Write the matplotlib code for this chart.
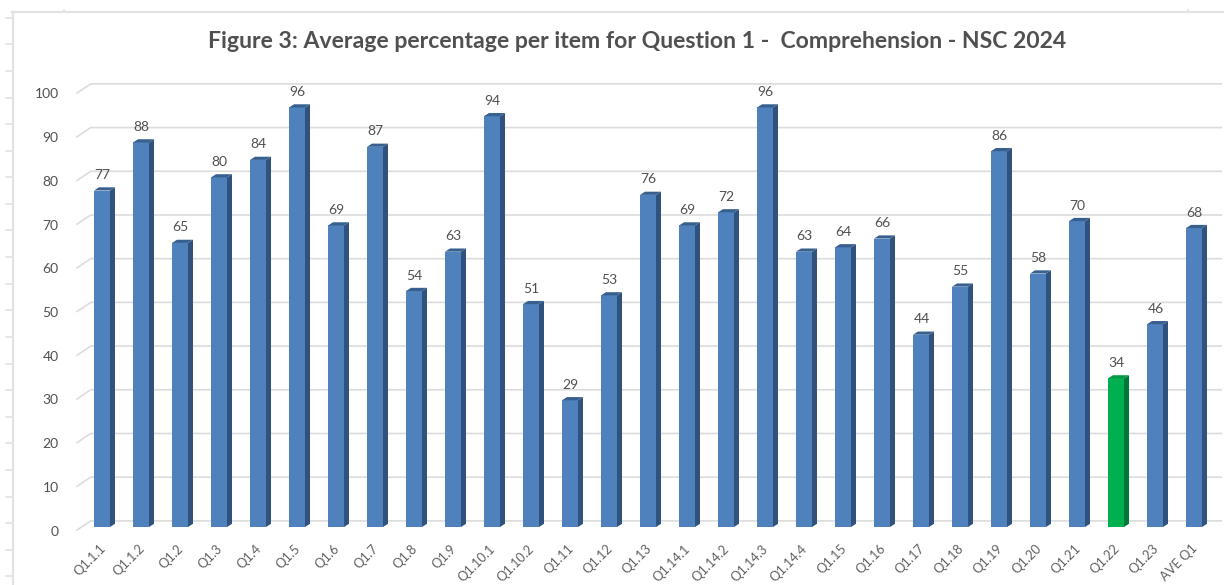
import matplotlib
matplotlib.use("Agg")
import matplotlib.pyplot as plt
from matplotlib.patches import Polygon
from matplotlib.lines import Line2D
from matplotlib.transforms import ScaledTranslation

categories = ["Q1.1.1","Q1.1.2","Q1.2","Q1.3","Q1.4","Q1.5","Q1.6","Q1.7","Q1.8","Q1.9",
              "Q1.10.1","Q1.10.2","Q1.11","Q1.12","Q1.13","Q1.14.1","Q1.14.2","Q1.14.3","Q1.14.4",
              "Q1.15","Q1.16","Q1.17","Q1.18","Q1.19","Q1.20","Q1.21","Q1.22","Q1.23","AVE Q1"]
values = [77,88,65,80,84,96,69,87,54,63,94,51,29,53,76,69,72,96,63,64,66,44,55,86,58,70,34,46.4,68.4]
highlight = "Q1.22"
title = "Figure 3: Average percentage per item for Question 1 -  Comprehension - NSC 2024"
y_ticks = list(range(0, 101, 10))

W, H = 1224, 585
plt.rcParams['font.family'] = ['Lato', 'DejaVu Sans']
fig = plt.figure(figsize=(W/100, H/100), dpi=100, facecolor='white')

# sheet frame with ruler-like ticks
frame = '#e2e2e2'
def fig_line(xp, yp, lw=1.6):
    fig.add_artist(Line2D([x/W for x in xp], [1-y/H for y in yp], color=frame, lw=lw))
fig_line([12.5, 12.5], [12, H])
fig_line([12, W], [12.3, 12.3])
t = 17.7
while t < H:
    fig_line([6, 12], [t, t], lw=1.2)
    t += 26.6
for tx in (64, 1188):
    fig_line([tx, tx], [10, 12], lw=1.2)

# plot area in pixels: value 0 at y=527, value 100 at y=90; category i at x=102+39i
px_per_cat = 39.0
px_per_val = 4.37
left_px, right_px = 78, 1224
ax = fig.add_axes([left_px/W, (H-527)/H, (right_px-left_px)/W, 437/H])
ax.patch.set_alpha(0)
ax.set_xlim((left_px-102)/px_per_cat, (right_px-102)/px_per_cat)
ax.set_ylim(0, 100)
for s in ax.spines.values():
    s.set_visible(False)

bar_w = 16/px_per_cat
dx = 5.0/px_per_cat
dy = 3.2/px_per_val

# back wall gridlines
grid = '#dcdcdc'
for v in y_ticks:
    ax.plot([-0.64, -0.29, 28.7], [v-0.7, v+1.4, v+1.4], color=grid, lw=1.2,
            clip_on=False, zorder=1, solid_joinstyle='miter')

xs = list(range(len(categories)))
for i, (c, v) in enumerate(zip(categories, values)):
    green = c == highlight
    front, side, top = (('#00B050', '#00783A', '#009A47') if green
                        else ('#4F81BD', '#30527C', '#38608F'))
    ax.bar(i, v, width=bar_w, color=front, zorder=3, linewidth=0)
    l, r = i-bar_w/2, i+bar_w/2
    ax.add_patch(Polygon([(r, 0), (r+dx, dy), (r+dx, v+dy), (r, v)], closed=True,
                         fc=side, ec='none', zorder=3, clip_on=False))
    ax.add_patch(Polygon([(l, v), (r, v), (r+dx, v+dy), (l+dx, v+dy)], closed=True,
                         fc=top, ec='none', zorder=3, clip_on=False))
    ax.annotate(f"{v:.0f}", (i, v), xytext=(0.5, 15.5), textcoords='offset pixels',
                ha='center', va='center', fontsize=10, color='#505050', zorder=4,
                annotation_clip=False)

ax.set_yticks(y_ticks)
ax.set_yticklabels([str(v) for v in y_ticks], fontsize=10, color='#505050')
ax.tick_params(axis='y', length=0, pad=14)
for lab in ax.get_yticklabels():
    lab.set_transform(lab.get_transform() + ScaledTranslation(0, -3.5/100, fig.dpi_scale_trans))
ax.set_xticks(xs)
ax.set_xticklabels(categories, rotation=45, ha='right', rotation_mode='anchor',
                   fontsize=9.3, color='#606060')
ax.tick_params(axis='x', length=0, pad=11)
for lab in ax.get_xticklabels():
    lab.set_transform(lab.get_transform() + ScaledTranslation(-3/100, 0, fig.dpi_scale_trans))
fig.text(637/W, 1-42/H, title, ha='center', va='center', fontsize=16.55, fontweight='bold', color='#505050')

fig.savefig("out.png", dpi=100, facecolor='white')
